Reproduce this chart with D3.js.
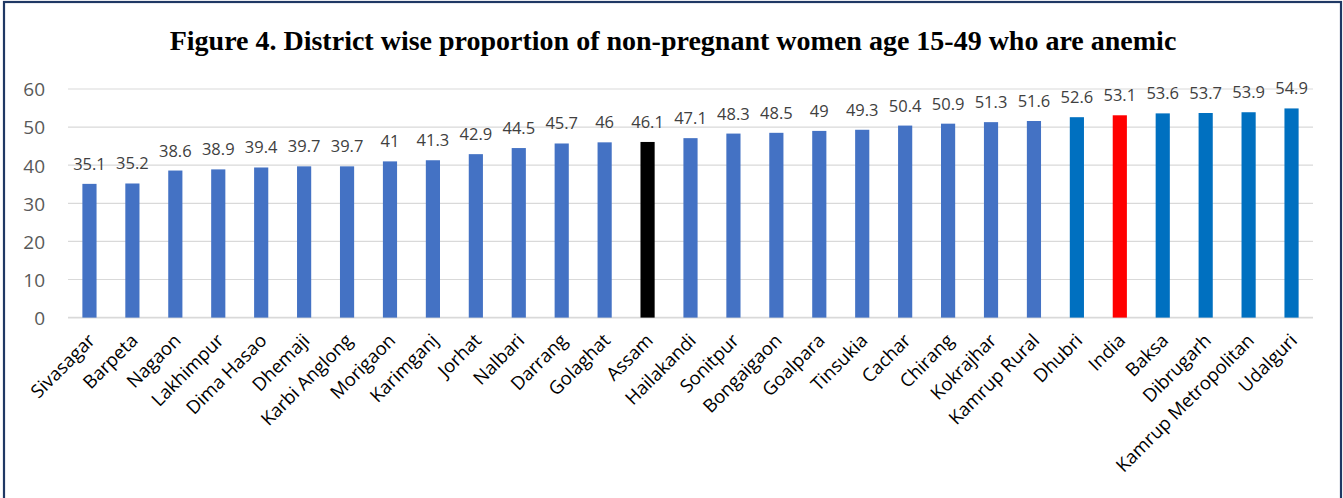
<!DOCTYPE html>
<html><head><meta charset="utf-8">
<script src="https://cdn.jsdelivr.net/npm/d3@7"></script>
<style>html,body{margin:0;padding:0;background:#fff;}svg{display:block;}</style>
</head><body>
<script>
const categories = ["Sivasagar","Barpeta","Nagaon","Lakhimpur","Dima Hasao","Dhemaji","Karbi Anglong","Morigaon","Karimganj","Jorhat","Nalbari","Darrang","Golaghat","Assam","Hailakandi","Sonitpur","Bongaigaon","Goalpara","Tinsukia","Cachar","Chirang","Kokrajhar","Kamrup Rural","Dhubri","India","Baksa","Dibrugarh","Kamrup Metropolitan","Udalguri"];
const values = [35.1,35.2,38.6,38.9,39.4,39.7,39.7,41,41.3,42.9,44.5,45.7,46,46.1,47.1,48.3,48.5,49,49.3,50.4,50.9,51.3,51.6,52.6,53.1,53.6,53.7,53.9,54.9];
const labels = ["35.1","35.2","38.6","38.9","39.4","39.7","39.7","41","41.3","42.9","44.5","45.7","46","46.1","47.1","48.3","48.5","49","49.3","50.4","50.9","51.3","51.6","52.6","53.1","53.6","53.7","53.9","54.9"];
const groups = ["d","d","d","d","d","d","d","d","d","d","d","d","d","s","d","d","d","d","d","d","d","d","d","h","n","h","h","h","h"];
const yTicks = [0,10,20,30,40,50,60];
const title = "Figure 4. District wise proportion of non-pregnant women age 15-49 who are anemic";

const colorOf = {d:"#4472C4", s:"#000000", n:"#FF0000", h:"#0070C0"};
const W = 1343, H = 498;
const svg = d3.select("body").append("svg").attr("width", W).attr("height", H);

// frame
svg.append("rect").attr("x", 4).attr("y", 2).attr("width", 1337).attr("height", H + 10)
  .attr("fill", "none").attr("stroke", "#1F3864").attr("stroke-width", 2.2);

svg.append("text").attr("x", 673).attr("y", 50).attr("text-anchor", "middle")
  .attr("font-family", "'Liberation Serif','Times New Roman',serif").attr("font-weight", "bold")
  .attr("font-size", 28).attr("fill", "#000").text(title);

const x = d3.scaleBand().domain(categories).range([68, 1313]).paddingInner(0.67).paddingOuter(0.335);
const y = d3.scaleLinear().domain([0, 60]).range([317.6, 89]);

const font = "'Open Sans','Noto Sans',sans-serif";

// gridlines
svg.append("g").selectAll("line").data(yTicks).join("line")
  .attr("x1", 68).attr("x2", 1313)
  .attr("y1", d => y(d)).attr("y2", d => y(d))
  .attr("stroke", "#D9D9D9").attr("stroke-width", d => d === 0 ? 1.8 : 1.2);

// y axis labels
const yAxis = d3.axisLeft(y).tickValues(yTicks).tickSize(0).tickPadding(0);
const ya = svg.append("g").attr("transform", "translate(45,0)").call(yAxis);
ya.select(".domain").remove();
ya.selectAll("text").attr("font-family", font).attr("font-size", 19).attr("fill", "#595959").attr("dy", "0.36em");

// bars
svg.append("g").selectAll("rect").data(categories).join("rect")
  .attr("x", d => x(d)).attr("width", x.bandwidth())
  .attr("y", (d, i) => y(values[i])).attr("height", (d, i) => y(0) - y(values[i]))
  .attr("fill", (d, i) => colorOf[groups[i]]);

// value labels
svg.append("g").selectAll("text").data(categories).join("text")
  .attr("x", d => x(d) + x.bandwidth() / 2)
  .attr("y", (d, i) => y(values[i]) - 14)
  .attr("text-anchor", "middle").attr("font-family", font).attr("font-size", 16.5).attr("fill", "#404040")
  .text((d, i) => labels[i]);

// category labels
const xAxis = d3.axisBottom(x).tickSize(0).tickPadding(0);
const xa = svg.append("g").call(xAxis);
xa.select(".domain").remove();
xa.selectAll(".tick").attr("transform", d => `translate(${x(d) + x.bandwidth() / 2 - 2.5},332.5)`);
xa.selectAll("text").attr("font-family", font).attr("font-size", 18.5).attr("fill", "#000")
  .attr("text-anchor", "end").attr("x", 0).attr("y", 0).attr("dy", "0.7em")
  .attr("transform", "rotate(-45)");
</script>
</body></html>
